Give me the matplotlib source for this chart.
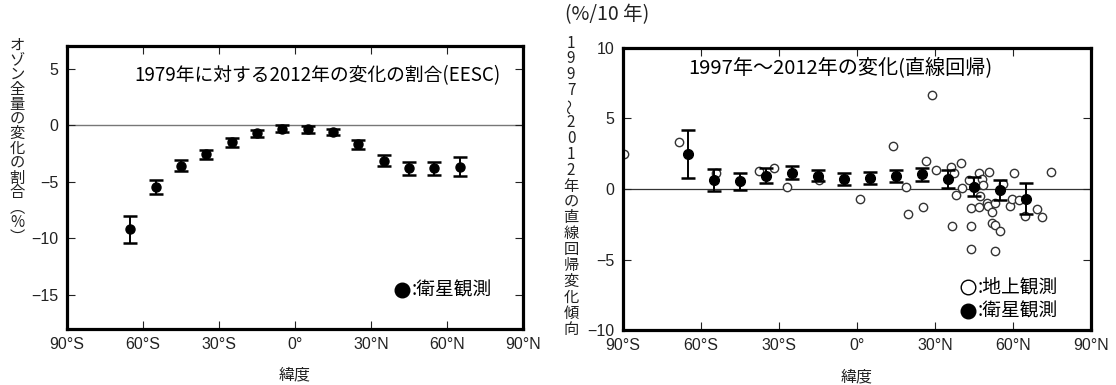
import numpy as np
import matplotlib
matplotlib.use("Agg")
import matplotlib.pyplot as plt

plt.rcParams['font.family'] = ['Noto Sans CJK JP', 'DejaVu Sans']

# ======================
# DATA
# ======================
lat_sat = [-65, -55, -45, -35, -25, -15, -5, 5, 15, 25, 35, 45, 55, 65]

# left: 1979 -> 2012 change ratio (EESC), %
eesc_val = [-9.2, -5.45, -3.57, -2.57, -1.51, -0.72, -0.31, -0.35, -0.6, -1.69, -3.12, -3.82, -3.82, -3.66]
eesc_err = [1.18, 0.62, 0.49, 0.39, 0.37, 0.33, 0.3, 0.3, 0.3, 0.4, 0.52, 0.56, 0.56, 0.86]

# right: 1997-2012 linear trend, satellite
trend_val = [2.45, 0.64, 0.54, 0.95, 1.16, 0.95, 0.69, 0.76, 0.92, 1.04, 0.69, 0.17, -0.07, -0.69]
trend_err = [1.7, 0.76, 0.62, 0.52, 0.45, 0.4, 0.44, 0.44, 0.43, 0.46, 0.64, 0.69, 0.68, 1.1]

# right: ground stations
ground_lat = [-89.6, -68.6, -54.2, -37.6, -31.8, -27.0, -14.6, 1.3, 13.7, 18.8, 19.6, 25.3,
              26.4, 28.7, 30.3, 36.3, 37.4, 40.1, 40.4, 38.0, 36.4, 43.7, 43.8, 43.8, 43.2,
              47.0, 48.1, 48.3, 47.3, 47.0, 50.0, 50.3, 50.9, 51.8, 51.8, 53.2, 55.0, 53.2,
              53.2, 56.0, 58.8, 59.6, 62.2, 60.2, 64.6, 69.1, 71.3, 74.6]
ground_val = [2.46, 3.35, 1.1, 1.28, 1.47, 0.12, 0.64, -0.68, 3.05, 0.16, -1.77, -1.3,
              2.0, 6.69, 1.35, 1.54, 1.11, 1.87, 0.09, -0.43, -2.62, -4.23, -2.62, -1.32, 0.64,
              1.16, 0.69, 0.28, -0.5, -1.25, -0.97, -1.2, 1.23, -1.65, -2.43, -2.55, -2.98, -4.42,
              -1.02, 0.33, -1.2, -0.71, -0.78, 1.16, -1.91, -1.42, -1.96, 1.23]

xticks = [-90, -60, -30, 0, 30, 60, 90]
xticklabels = ['90°S', '60°S', '30°S', '0°', '30°N', '60°N', '90°N']

W, H = 1116, 385
fig = plt.figure(figsize=(W / 100, H / 100), dpi=100)


def px_rect(x0, y0, x1, y1):
    return [x0 / W, 1 - y1 / H, (x1 - x0) / W, (y1 - y0) / H]


def style_axes(ax, yticks):
    for s in ax.spines.values():
        s.set_linewidth(2.3)
        s.set_color('black')
    ax.set_xlim(-90, 90)
    ax.set_xticks(xticks)
    ax.set_xticklabels(xticklabels, family=['Liberation Sans', 'DejaVu Sans'])
    ax.set_yticks(yticks)
    ax.set_yticklabels([str(v).replace('-', '−') for v in yticks],
                       family=['Liberation Sans', 'DejaVu Sans'])
    ax.tick_params(direction='in', length=6, width=0.8, top=True, right=True,
                   labelsize=11.5, colors='#222222', pad=6)


def vertical_label(chars, x, y_top, step, size):
    for i, c in enumerate(chars):
        rot = 90 if c == '～' else 0
        fig.text(x / W, 1 - (y_top + i * step) / H, c, ha='center', va='center',
                 fontsize=size, rotation=rot, color='#222222')


# ======================
# LEFT PANEL
# ======================
ax1 = fig.add_axes(px_rect(67, 46, 523, 329))
style_axes(ax1, [5, 0, -5, -10, -15])
ax1.set_ylim(-18, 7)
ax1.axhline(0, color='#777777', lw=1.0, zorder=1)
ax1.errorbar(lat_sat, eesc_val, yerr=eesc_err, fmt='o', color='black', ms=6.5,
             elinewidth=1.4, capsize=5, capthick=1.8, zorder=3)
ax1.text(0.55, 0.897, '1979年に対する2012年の変化の割合(EESC)', transform=ax1.transAxes,
         ha='center', va='center', fontsize=13.5)
ax1.plot([0.735], [0.137], 'o', color='black', ms=10.5, transform=ax1.transAxes, clip_on=False)
ax1.text(0.755, 0.137, ':衛星観測', transform=ax1.transAxes, ha='left', va='center', fontsize=13.5)
fig.text(295 / W, 1 - 375 / H, '緯度', ha='center', va='center', fontsize=11.5, color='#222222')
vertical_label(list('オゾン全量の変化の割合') + ['︵', '%', '︶'], 17, 45, 14.8, 11)

# ======================
# RIGHT PANEL
# ======================
ax2 = fig.add_axes(px_rect(623, 48, 1091, 330))
style_axes(ax2, [10, 5, 0, -5, -10])
ax2.set_ylim(-10, 10)
ax2.axhline(0, color='#333333', lw=0.9, zorder=1)
ax2.plot(ground_lat, ground_val, 'o', mfc='white', mec='#333333', mew=1.0, ms=6, zorder=2)
ax2.errorbar(lat_sat, trend_val, yerr=trend_err, fmt='o', color='black', ms=7,
             elinewidth=1.4, capsize=5, capthick=1.8, zorder=3)
ax2.text(0.465, 0.93, '1997年～2012年の変化(直線回帰)', transform=ax2.transAxes,
         ha='center', va='center', fontsize=14.5)
ax2.plot([0.737], [0.152], 'o', mfc='white', mec='black', mew=1.0, ms=10.5,
         transform=ax2.transAxes, clip_on=False)
ax2.text(0.757, 0.152, ':地上観測', transform=ax2.transAxes, ha='left', va='center', fontsize=13.5)
ax2.plot([0.737], [0.068], 'o', color='black', ms=10.5, transform=ax2.transAxes, clip_on=False)
ax2.text(0.757, 0.068, ':衛星観測', transform=ax2.transAxes, ha='left', va='center', fontsize=13.5)
fig.text(857 / W, 1 - 377 / H, '緯度', ha='center', va='center', fontsize=11.5, color='#222222')
fig.text(565 / W, 1 - 15 / H, '(%/10 年)', ha='left', va='center', fontsize=14, color='#222222')
vertical_label(list('1997～2012年の直線回帰変化傾向'), 571, 43, 15.9, 11)

fig.savefig('out.png', dpi=100)
